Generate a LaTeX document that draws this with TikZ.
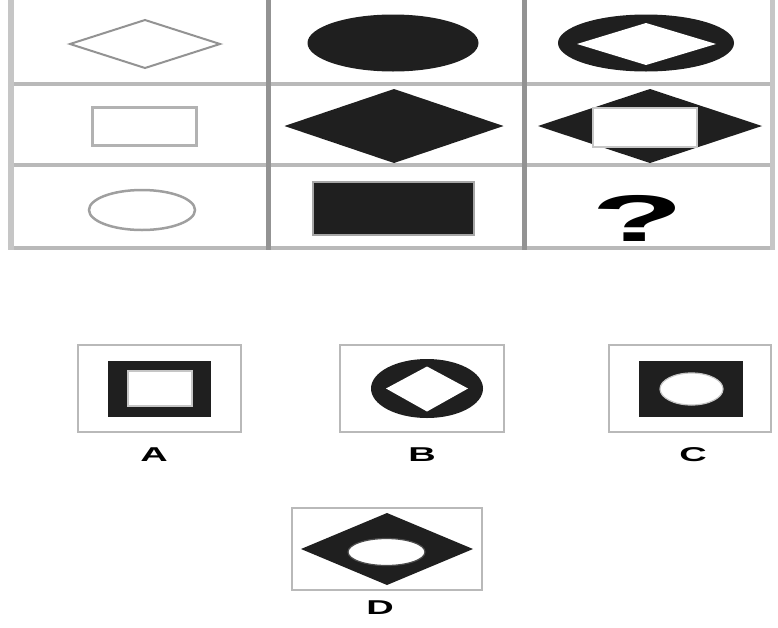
\documentclass[tikz,border=0pt]{standalone}
\usepackage{fontspec}
\setmainfont{Liberation Sans}
\usepackage{tikz}
\usetikzlibrary{calc}

\begin{document}
\begin{tikzpicture}[x=1pt, y=-1pt,
  gridline/.style={line width=4pt, gray!55},
  sepline/.style={line width=5pt, gray!85},
  thinshape/.style={line width=2pt, gray!85},
  solidfill/.style={fill=black!88},
  hole/.style={fill=white, draw=gray!45, line width=1.2pt},
  optbox/.style={draw=gray!55, line width=2pt, fill=white},
  optlabel/.style={font=\bfseries\fontsize{20}{20}\selectfont, inner sep=0pt}]

\useasboundingbox (0,0) rectangle (778,627);

% ---------------- 1. GRID ----------------
\draw[gridline] (8,84) -- (775,84);
\draw[gridline] (8,165) -- (775,165);
\draw[gridline] (8,248) -- (775,248);
\draw[line width=6pt, gray!45] (11,0) -- (11,250);
\draw[line width=5pt, gray!45] (772,0) -- (772,250);
\draw[sepline] (268,0) -- (268,250);
\draw[sepline] (524,0) -- (524,250);

% ---------------- 2. ROW 1 ----------------
\coordinate (R1a) at (145,44);
\coordinate (R1b) at (393,43);
\coordinate (R1c) at (646,43);
\draw[thinshape] (R1a) +(-75,0) -- +(0,-24) -- +(75,0) -- +(0,24) -- cycle;
\fill[solidfill] (R1b) ellipse [x radius=85.5, y radius=28.5];
\fill[solidfill] (R1c) ellipse [x radius=88, y radius=28.5];
\fill[white] (R1c) +(-69,1) -- +(0,-20) -- +(70,1) -- +(0,22) -- cycle;

% ---------------- 3. ROW 2 ----------------
\coordinate (R2b) at (394,126);
\coordinate (R2c) at (650,126);
\draw[line width=3pt, gray!60] (92,107) rectangle (196,145);
\fill[solidfill] (R2b) +(-109.5,0) -- +(0,-37) -- +(109.5,0) -- +(0,37) -- cycle;
\fill[solidfill] (R2c) +(-112,0) -- +(0,-37) -- +(112,0) -- +(0,37) -- cycle;
\draw[hole, line width=2pt] (593,108) rectangle (697,147);

% ---------------- 4. ROW 3 ----------------
\draw[line width=2.5pt, gray!75] (142,210) ellipse [x radius=53, y radius=20];
\draw[solidfill, draw=gray!70, line width=2pt] (313,182) rectangle (474,235);
\node[inner sep=0pt] (qmark) at (638,218)
  {\scalebox{2.3}[1]{\bfseries\fontsize{66}{66}\selectfont ?}};

% ---------------- 5. OPTIONS A, B, C ----------------
\draw[optbox] (78,345) rectangle (241,432);
\fill[solidfill] (108,361) rectangle (211,417);
\draw[hole] (128,371) rectangle (192,406);
\node[optlabel] (lblA) at (154,455) {\scalebox{1.9}[1]{A}};

\draw[optbox] (340,345) rectangle (504,432);
\coordinate (OptB) at (427,388.5);
\fill[solidfill] (OptB) ellipse [x radius=56, y radius=29.5];
\fill[white] (OptB) +(-41,0) -- +(0,-22) -- +(41,0) -- +(0,23) -- cycle;
\node[optlabel] (lblB) at (422,455) {\scalebox{1.9}[1]{B}};

\draw[optbox] (609,345) rectangle (771,432);
\fill[solidfill] (639,361) rectangle (743,417);
\draw[hole] (691.5,389) ellipse [x radius=31.5, y radius=16];
\node[optlabel] (lblC) at (693,455) {\scalebox{1.9}[1]{C}};

% ---------------- 6. OPTION D ----------------
\draw[optbox] (292,508) rectangle (482,590);
\coordinate (OptD) at (387,549);
\fill[solidfill] (OptD) +(-86,0) -- +(0,-36) -- +(86,0) -- +(0,36) -- cycle;
\draw[hole, draw=black!70] (386.5,552) ellipse [x radius=38.5, y radius=13.5];
\node[optlabel] (lblD) at (380,608) {\scalebox{1.9}[1]{D}};

\end{tikzpicture}
\end{document}
